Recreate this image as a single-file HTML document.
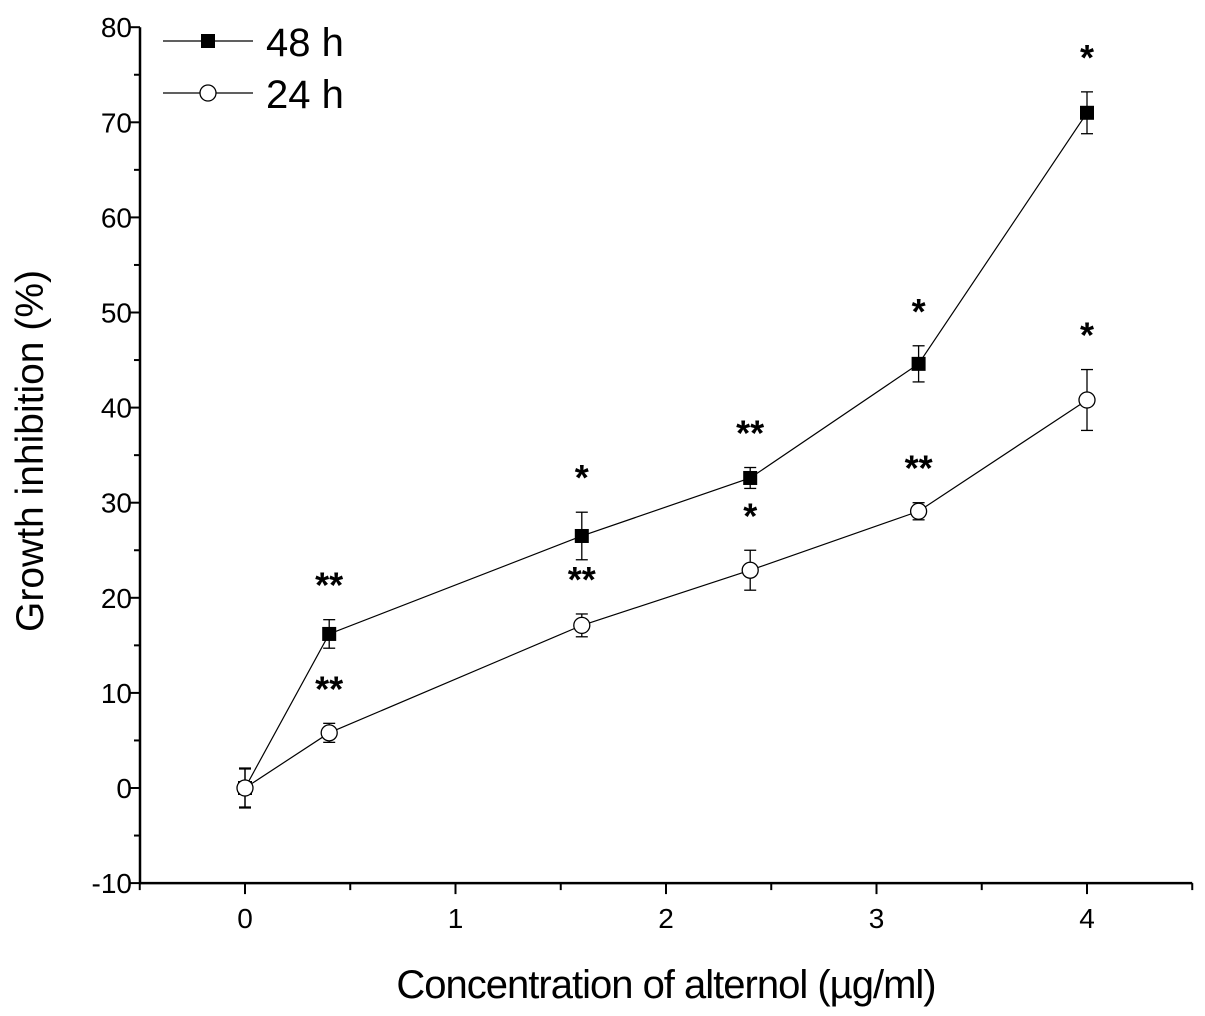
<!DOCTYPE html>
<html><head><meta charset="utf-8"><style>
html,body{margin:0;padding:0;background:#fff;}
svg{display:block;font-family:"Liberation Sans",Arial,sans-serif;}
</style></head><body>
<svg id="chart" width="1205" height="1016" viewBox="0 0 1205 1016"></svg>
<script>
const xValues = [0, 0.4, 1.6, 2.4, 3.2, 4];
const series48 = [0, 16.2, 26.5, 32.6, 44.6, 71.0];
const err48 = [2, 1.5, 2.5, 1.1, 1.9, 2.2];
const stars48 = ["", "**", "*", "**", "*", "*"];
const series24 = [0, 5.8, 17.1, 22.9, 29.1, 40.8];
const err24 = [2.1, 1.0, 1.2, 2.1, 0.9, 3.2];
const stars24 = ["", "**", "**", "*", "**", "*"];
const xTicks = [0, 1, 2, 3, 4];
const yTicks = [-10, 0, 10, 20, 30, 40, 50, 60, 70, 80];

const NS = "http://www.w3.org/2000/svg";
const svgRoot = document.getElementById("chart");
const X0 = 245, XS = 210.5;
const Y0 = 788, YS = 9.51;
const sx = v => X0 + v * XS;
const sy = v => Y0 - v * YS;
function el(tag, attrs, parent) {
  const e = document.createElementNS(NS, tag);
  for (const k in attrs) e.setAttribute(k, attrs[k]);
  (parent || svgRoot).appendChild(e);
  return e;
}
const plotLeft = 140, plotRight = sx(4.5), plotTop = sy(80), plotBottom = sy(-10);

const yAxis = el("line", {x1: plotLeft, y1: plotTop, x2: plotLeft, y2: plotBottom + 1, stroke: "#000", "stroke-width": 2.5});


const xAxis = el("line", {x1: plotLeft - 1, y1: plotBottom, x2: plotRight, y2: plotBottom, stroke: "#000", "stroke-width": 2.5});



for (let v = -10; v <= 80; v += 5) {
  const major = v % 10 === 0;
  el("line", {x1: plotLeft - (major ? 10 : 6), y1: sy(v), x2: plotLeft, y2: sy(v), stroke: "#000", "stroke-width": 2});
}
yTicks.forEach(v => {
  const t = el("text", {x: plotLeft - 8, y: sy(v) + 10, "text-anchor": "end", "font-size": 28});
  t.textContent = v;
  
  
});
for (let v = -0.5; v <= 4.5001; v += 0.5) {
  const major = Math.abs(v - Math.round(v)) < 1e-6;
  el("line", {x1: sx(v), y1: plotBottom, x2: sx(v), y2: plotBottom + (major ? 11 : 7), stroke: "#000", "stroke-width": 2});
}
xTicks.forEach(v => {
  const t = el("text", {x: sx(v), y: plotBottom + 45, "text-anchor": "middle", "font-size": 28});
  t.textContent = v;
  
  
});

const xTitle = el("text", {x: 666, y: 998, "text-anchor": "middle", "font-size": 40, "letter-spacing": "-1"});
xTitle.textContent = "Concentration of alternol (µg/ml)";


const yTitle = el("text", {x: 0, y: 0, "text-anchor": "middle", "font-size": 39, transform: "translate(43,451) rotate(-90)"});
yTitle.textContent = "Growth inhibition (%)";



function drawSeries(vals, errs, stars, kind, name) {
  const g = el("g", {});
  
  
  el("polyline", {points: vals.map((v, i) => sx(xValues[i]) + "," + sy(v)).join(" "), fill: "none", stroke: "#000", "stroke-width": 1.2}, g);
  vals.forEach((v, i) => {
    const x = sx(xValues[i]), eTop = sy(v + errs[i]), eBot = sy(v - errs[i]);
    el("line", {x1: x, y1: eTop, x2: x, y2: eBot, stroke: "#000", "stroke-width": 1.3}, g);
    el("line", {x1: x - 6, y1: eTop, x2: x + 6, y2: eTop, stroke: "#000", "stroke-width": 1.3}, g);
    el("line", {x1: x - 6, y1: eBot, x2: x + 6, y2: eBot, stroke: "#000", "stroke-width": 1.3}, g);
    let m;
    if (kind === "square") m = el("rect", {x: x - 7, y: sy(v) - 7, width: 14, height: 14, fill: "#000"}, g);
    else m = el("circle", {cx: x, cy: sy(v), r: 8, fill: "#fff", stroke: "#000", "stroke-width": 1.3}, g);
    
    
    if (stars[i]) {
      const s = el("text", {x: x, y: eTop - 22, "text-anchor": "middle", "font-size": 36, "font-weight": "bold"}, g);
      s.textContent = stars[i];
      
      
    }
  });
}
drawSeries(series48, err48, stars48, "square", "series-48h");
drawSeries(series24, err24, stars24, "circle", "series-24h");

const lg = el("g", {});


el("line", {x1: 163, y1: 41, x2: 253, y2: 41, stroke: "#000", "stroke-width": 1.2}, lg);
el("rect", {x: 201, y: 34, width: 14, height: 14, fill: "#000"}, lg);
const l1 = el("text", {x: 266, y: 56, "font-size": 40}, lg);
l1.textContent = "48 h";


el("line", {x1: 163, y1: 93, x2: 253, y2: 93, stroke: "#000", "stroke-width": 1.2}, lg);
el("circle", {cx: 208, cy: 93, r: 8, fill: "#fff", stroke: "#000", "stroke-width": 1.3}, lg);
const l2 = el("text", {x: 266, y: 108, "font-size": 40}, lg);
l2.textContent = "24 h";


</script>
</body></html>
